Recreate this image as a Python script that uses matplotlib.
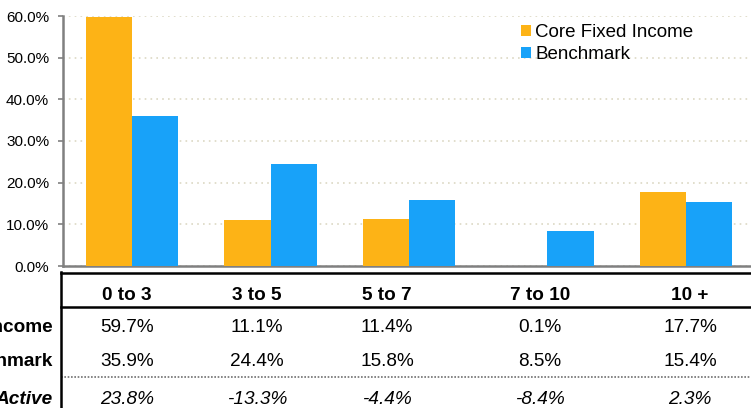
import matplotlib.pyplot as plt
import numpy as np
from matplotlib.lines import Line2D

plt.rcParams['font.family'] = ['Liberation Sans', 'DejaVu Sans']

categories = ["0 to 3", "3 to 5", "5 to 7", "7 to 10", "10 +"]
core = [59.7, 11.1, 11.4, 0.1, 17.7]
bench = [35.9, 24.4, 15.8, 8.5, 15.4]
active = [23.8, -13.3, -4.4, -8.4, 2.3]

orange = "#FDB316"
blue = "#18A2F9"

W, H = 751, 408
fig = plt.figure(figsize=(W / 100, H / 100), dpi=100)
ax = fig.add_axes([63 / W, 1 - 266 / H, 692 / W, 250 / H])

x = np.arange(len(categories))
bw = 1 / 3
ax.bar(x - bw / 2, core, bw, color=orange, label="Core Fixed Income", zorder=3)
ax.bar(x + bw / 2, bench, bw, color=blue, label="Benchmark", zorder=3)

ax.set_xlim(-0.5, len(categories) - 0.5)
ax.set_ylim(0, 60)
ax.set_yticks(np.arange(0, 61, 10))
ax.set_yticklabels([f"{v:.1f}%" for v in np.arange(0, 61, 10)], fontsize=11)
ax.set_xticks([])
ax.tick_params(axis='y', length=3.5, width=1.2, color="#808080", pad=6.5)
for s in ["top", "right"]:
    ax.spines[s].set_visible(False)
for s in ["left", "bottom"]:
    ax.spines[s].set_color("#808080")
    ax.spines[s].set_linewidth(1.8)
ax.yaxis.grid(True, linestyle=(0, (1, 2.5)), color="#dcd8c4", linewidth=1.2, zorder=0)

ax.legend(loc="upper left", bbox_to_anchor=(521 / W, 1 - 24 / H),
          bbox_transform=fig.transFigure, frameon=False, fontsize=13.5,
          handlelength=0.55, handleheight=0.55, handletextpad=0.2,
          labelspacing=0.28, borderaxespad=0, borderpad=0)

# table below the chart
def fy(py):
    return 1 - py / H

fig.add_artist(Line2D([61 / W, 1], [fy(273), fy(273)], color="black", lw=1.8))
fig.add_artist(Line2D([61 / W, 1], [fy(307), fy(307)], color="black", lw=1.8))
fig.add_artist(Line2D([61 / W, 1], [fy(377), fy(377)], color="#707070", lw=1.2,
                      linestyle=(0, (1, 1))))
fig.add_artist(Line2D([61 / W, 61 / W], [fy(272), 0], color="black", lw=1.8))

col_x = [127, 257, 387, 540, 690]
fs = 13.7
for cx, cat, c, b, a in zip(col_x, categories, core, bench, active):
    fig.text(cx / W, fy(295), cat, ha="center", va="center", fontsize=fs, fontweight="bold")
    fig.text(cx / W, fy(328), f"{c:.1f}%", ha="center", va="center", fontsize=fs)
    fig.text(cx / W, fy(362), f"{b:.1f}%", ha="center", va="center", fontsize=fs)
    fig.text(cx / W, fy(399), f"{a:.1f}%", ha="center", va="center", fontsize=fs, style="italic")

# row labels run off the left edge, as in the source image
fig.text(53 / W, fy(328), "Core Fixed Income", ha="right", va="center", fontsize=fs, fontweight="bold")
fig.text(53 / W, fy(362), "Benchmark", ha="right", va="center", fontsize=fs, fontweight="bold")
fig.text(53 / W, fy(399), "Active", ha="right", va="center", fontsize=fs, fontweight="bold", style="italic")

fig.savefig("out.png", dpi=100)
